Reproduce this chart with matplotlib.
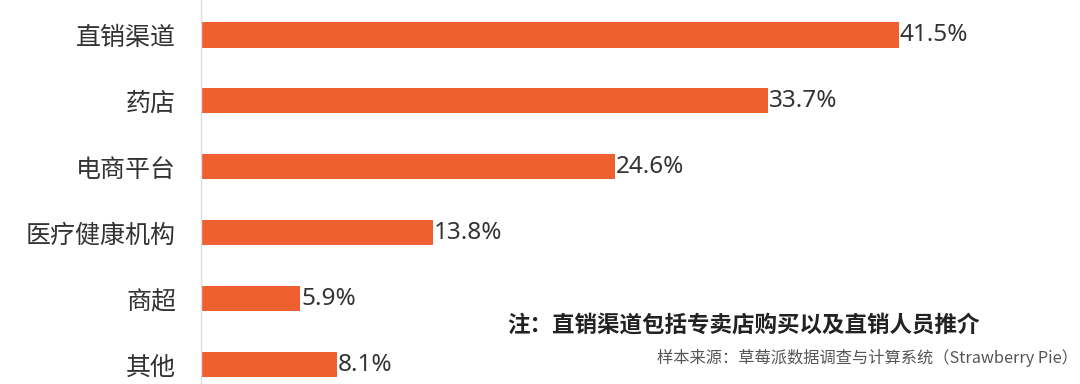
import matplotlib
matplotlib.use("Agg")
import matplotlib.pyplot as plt

plt.rcParams['font.family'] = ['Noto Sans CJK SC', 'DejaVu Sans']

categories = ["直销渠道", "药店", "电商平台", "医疗健康机构", "商超", "其他"]
values = [41.5, 33.7, 24.6, 13.8, 5.9, 8.1]
value_labels = ["41.5%", "33.7%", "24.6%", "13.8%", "5.9%", "8.1%"]
note_text = "注：直销渠道包括专卖店购买以及直销人员推介"
source_text = "样本来源：草莓派数据调查与计算系统（Strawberry Pie）"

W, H = 1080, 384
fig = plt.figure(figsize=(W / 100, H / 100), dpi=100)
left_px = 201
ax = fig.add_axes([left_px / W, 0, 1 - left_px / W, 1])

px_per_unit = 16.82
ax.set_xlim(0, (W - left_px) / px_per_unit)
ax.set_ylim(5.29, -0.53)

pos = list(range(len(categories)))
ax.barh(pos, values, height=0.38, color='#EE6030')

for p, v, lab in zip(pos, values, value_labels):
    ax.text(v + 0.05, p, lab, va='center', ha='left', fontsize=17.5,
            color='#333333', family=['Noto Sans', 'DejaVu Sans'])

ax.set_yticks(pos)
ax.set_yticklabels(categories, fontsize=18, color='#333333')
ax.tick_params(axis='y', length=0, pad=18)
ax.set_xticks([])

for s in ['top', 'right', 'bottom']:
    ax.spines[s].set_visible(False)
ax.spines['left'].set_color('#dddddd')
ax.spines['left'].set_linewidth(1)

fig.text(507 / W, 1 - 325 / H, note_text, fontsize=16.2, fontweight='bold',
         color='#222222', ha='left', va='center')
fig.text(1078 / W, 1 - 358 / H, source_text, fontsize=11.7,
         color='#555555', ha='right', va='center')

fig.savefig("out.png", dpi=100)
